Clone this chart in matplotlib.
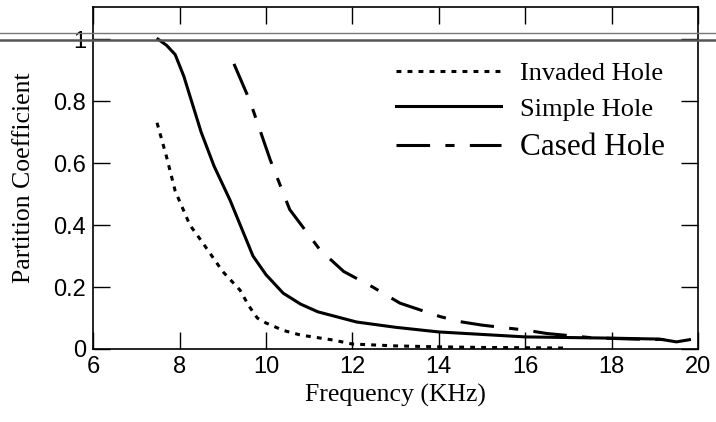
import numpy as np
import matplotlib.pyplot as plt
from matplotlib.lines import Line2D

# frequency (KHz) and partition coefficient
invaded_x = [7.48, 7.7, 7.9, 8.24, 8.5, 8.7, 9.0, 9.4, 9.6, 9.8, 10.0, 10.4, 10.8, 11.55, 12.0, 13.0, 14.0, 15.0, 16.0, 17.0]
invaded_y = [0.73, 0.62, 0.51, 0.40, 0.35, 0.31, 0.25, 0.19, 0.14, 0.10, 0.084, 0.06, 0.045, 0.029, 0.016, 0.01, 0.007, 0.005, 0.004, 0.003]

simple_x = [7.5, 7.7, 7.9, 8.1, 8.3, 8.5, 8.8, 9.17, 9.7, 10.0, 10.4, 10.8, 11.2, 12.1, 13.0, 14.0, 15.0, 16.0, 17.0, 18.0, 19.1, 19.5, 19.8]
simple_y = [1.0, 0.98, 0.95, 0.88, 0.79, 0.70, 0.59, 0.48, 0.30, 0.24, 0.18, 0.145, 0.12, 0.087, 0.07, 0.055, 0.047, 0.039, 0.037, 0.035, 0.032, 0.023, 0.03]

cased_x = [9.26, 9.63, 10.1, 10.55, 11.25, 11.8, 12.47, 13.1, 14.02, 14.5, 15.0, 16.0, 16.5, 17.56, 18.5, 19.5]
cased_y = [0.92, 0.80, 0.61, 0.45, 0.32, 0.25, 0.20, 0.148, 0.105, 0.088, 0.077, 0.061, 0.05, 0.036, 0.032, 0.03]

x_ticks = [6, 8, 10, 12, 14, 16, 18, 20]
y_ticks = [0, 0.2, 0.4, 0.6, 0.8, 1]
y_tick_labels = ["0", "0.2", "0.4", "0.6", "0.8", "1"]

serif = "Liberation Serif"
sans = "Liberation Sans"

fig = plt.figure(figsize=(7.16, 4.22), dpi=100)
ax = fig.add_axes([0.130, 0.173, 0.845, 0.810])

ax.plot(invaded_x, invaded_y, color="black", lw=2.2, linestyle=(0, (1.6, 2.0)), label="Invaded Hole")
ax.plot(simple_x, simple_y, color="black", lw=2.2, label="Simple Hole")
ax.plot(cased_x, cased_y, color="black", lw=2.2, linestyle=(0, (11, 5, 3, 5)), label="Cased Hole")

ax.set_xlim(6, 20)
ax.set_ylim(0, 1.103)
ax.set_xticks(x_ticks)
ax.set_yticks(y_ticks)
ax.set_yticklabels(y_tick_labels)
ax.tick_params(direction="in", length=12, width=1, top=True, right=True, labelsize=17, pad=5)
for lab in ax.get_xticklabels() + ax.get_yticklabels():
    lab.set_fontfamily(sans)
for s in ax.spines.values():
    s.set_linewidth(1.2)

ax.set_xlabel("Frequency (KHz)", fontsize=18.5, fontfamily=serif, labelpad=4)
ax.set_ylabel("Partition Coefficient", fontsize=18.5, fontfamily=serif, labelpad=13)

leg = ax.legend(loc="upper right", bbox_to_anchor=(0.945, 0.84), frameon=False,
                borderpad=0, borderaxespad=0,
                handlelength=4.0, handletextpad=0.7, labelspacing=0.45,
                prop={"family": serif, "size": 19})
leg.get_texts()[2].set_fontsize(22.5)

# double rule across the top of the page (scan artefact)
fig.add_artist(Line2D([0, 1], [1 - 33 / 422] * 2, transform=fig.transFigure, color="#777777", lw=1.0))
fig.add_artist(Line2D([0, 1], [1 - 39.5 / 422] * 2, transform=fig.transFigure, color="#555555", lw=1.8))

fig.savefig("out.png", dpi=100)
